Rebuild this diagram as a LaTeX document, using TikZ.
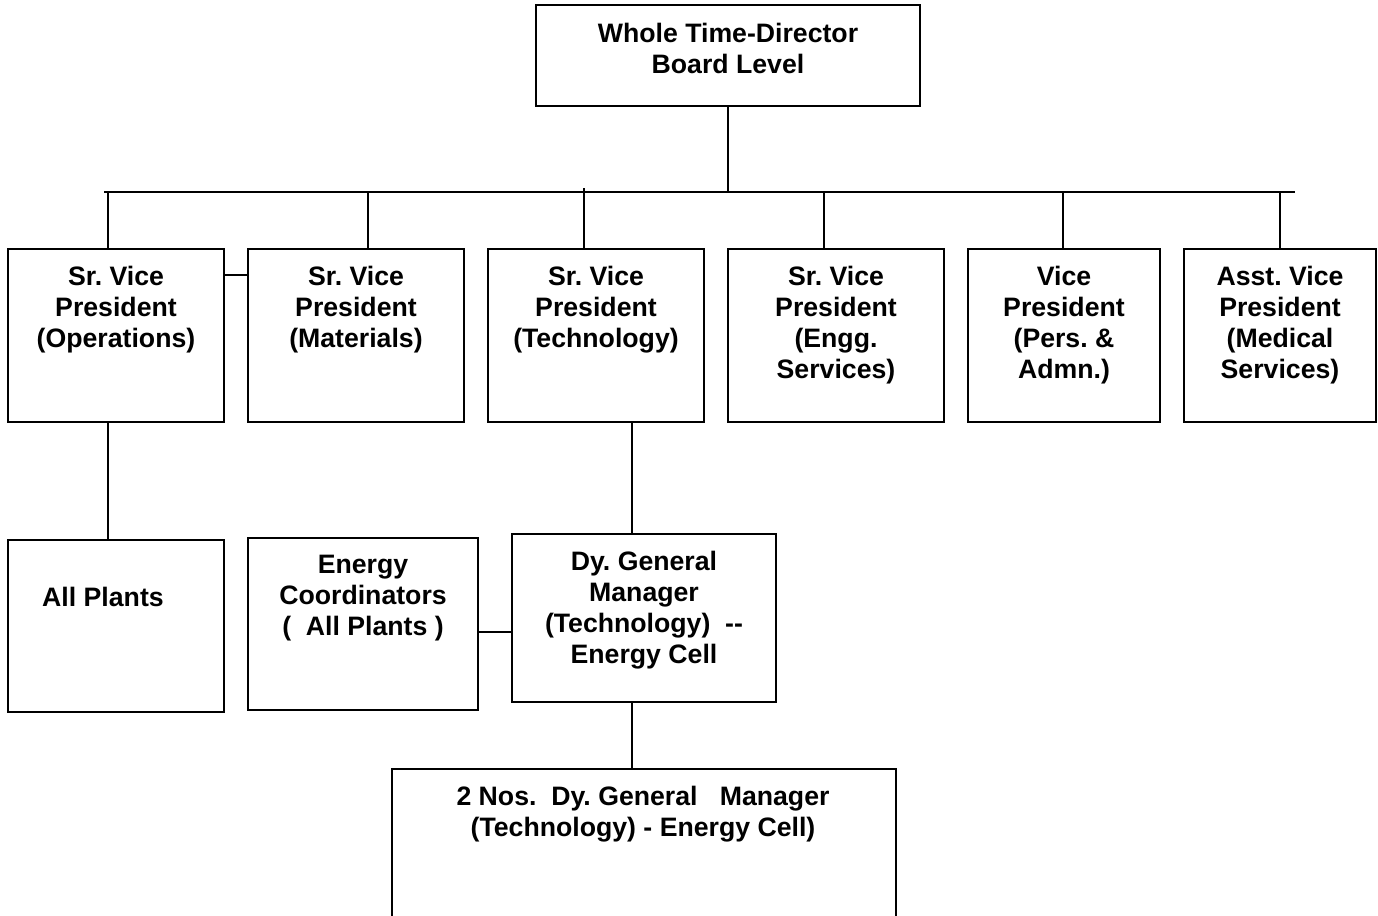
\documentclass[tikz,border=0pt]{standalone}
\usepackage{fontspec}
\setmainfont{Liberation Sans}
\begin{document}
\begin{tikzpicture}[x=0.75pt,y=-0.75pt,
  box/.style={draw=black, line width=1.5pt, inner sep=0pt, fill=none},
  txt/.style={inner sep=0pt, align=center, anchor=north, font={\fontsize{20}{23.25}\selectfont\bfseries\frenchspacing}},
  conn/.style={draw=black, line width=1.5pt}]
\useasboundingbox (0,0) rectangle (1378,915);
\clip (0,0) rectangle (1378,915);

% boxes
\node[box, minimum width={384*0.75pt}, minimum height={101*0.75pt}] (top) at (728,55.5) {};
\node[box, minimum width={216*0.75pt}, minimum height={173*0.75pt}] (op) at (116,335.5) {};
\node[box, minimum width={216*0.75pt}, minimum height={173*0.75pt}] (mat) at (356,335.5) {};
\node[box, minimum width={216*0.75pt}, minimum height={173*0.75pt}] (tech) at (596,335.5) {};
\node[box, minimum width={216*0.75pt}, minimum height={173*0.75pt}] (engg) at (836,335.5) {};
\node[box, minimum width={192*0.75pt}, minimum height={173*0.75pt}] (pers) at (1064,335.5) {};
\node[box, minimum width={192*0.75pt}, minimum height={173*0.75pt}] (med) at (1280,335.5) {};
\node[box, minimum width={216*0.75pt}, minimum height={172*0.75pt}] (plants) at (116,626) {};
\node[box, minimum width={230*0.75pt}, minimum height={172*0.75pt}] (ec) at (363,624) {};
\node[box, minimum width={264*0.75pt}, minimum height={168*0.75pt}] (dgm) at (644,618) {};
\node[box, minimum width={504*0.75pt}, minimum height={250*0.75pt}] (bot) at (644,894) {};

% texts
\node[txt] (topT) at (728,23) {Whole Time-Director\\Board Level};
\node[txt] (opT) at (116,266) {Sr. Vice\\President\\(Operations)};
\node[txt] (matT) at (356,266) {Sr. Vice\\President\\(Materials)};
\node[txt] (techT) at (596,266) {Sr. Vice\\President\\(Technology)};
\node[txt] (enggT) at (836,266) {Sr. Vice\\President\\(Engg.\\Services)};
\node[txt] (persT) at (1064,266) {Vice\\President\\(Pers. \&\\Admn.)};
\node[txt] (medT) at (1280,266) {Asst. Vice\\President\\(Medical\\Services)};
\node[txt] (plantsT) at (103,587) {All Plants};
\node[txt] (ecT) at (363,555) {Energy\\Coordinators\\(\ \ All Plants )};
\node[txt] (dgmT) at (644,551) {Dy. General\\Manager\\(Technology)\ \ {-}{-}\\Energy Cell};
\node[txt] (botT) at (643,786) {2 Nos.\ \ Dy. General\ \ \ Manager\\(Technology) - Energy Cell)};

% connectors
\coordinate (busL) at (104,192);
\coordinate (busR) at (1295,192);
\coordinate (d1) at (108,192);
\coordinate (d2) at (368,192);
\coordinate (d3) at (584,188);
\coordinate (d4) at (824,192);
\coordinate (d5) at (1063,192);
\coordinate (d6) at (1280,192);
\coordinate (hl1) at (0,275);
\coordinate (hl2) at (0,632);
\coordinate (c2) at (632,0);

\draw[conn] (busL) -- (busR);
\draw[conn] (top.south) -- (top.south |- busL);
\draw[conn] (d1) -- (d1 |- op.north);
\draw[conn] (d2) -- (d2 |- mat.north);
\draw[conn] (d3) -- (d3 |- tech.north);
\draw[conn] (d4) -- (d4 |- engg.north);
\draw[conn] (d5) -- (d5 |- pers.north);
\draw[conn] (d6) -- (d6 |- med.north);
\draw[conn] (op.east |- hl1) -- (mat.west |- hl1);
\draw[conn] (d1 |- op.south) -- (d1 |- plants.north);
\draw[conn] (c2 |- tech.south) -- (c2 |- dgm.north);
\draw[conn] (ec.east |- hl2) -- (dgm.west |- hl2);
\draw[conn] (c2 |- dgm.south) -- (c2 |- bot.north);
\end{tikzpicture}
\end{document}
